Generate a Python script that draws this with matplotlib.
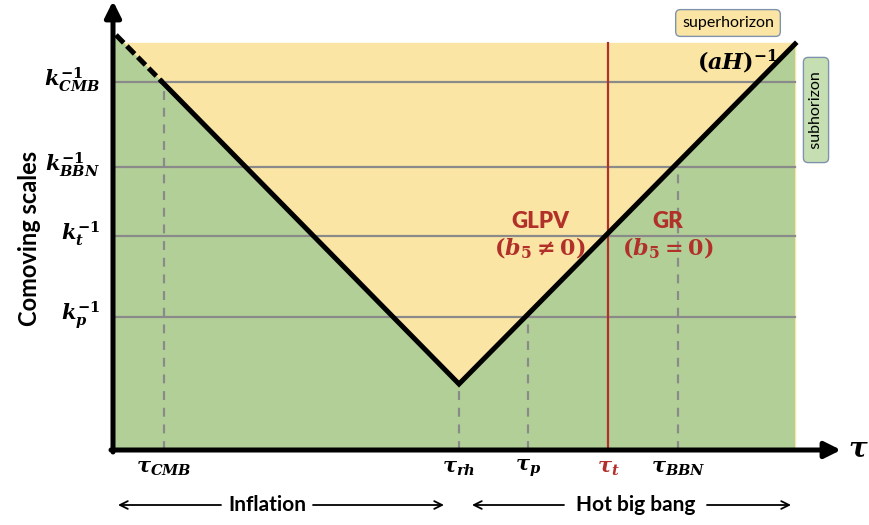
import matplotlib.pyplot as plt
import numpy as np

plt.rcParams['mathtext.fontset'] = 'custom'
plt.rcParams['mathtext.it'] = 'DejaVu Serif:italic:bold'
plt.rcParams['mathtext.rm'] = 'DejaVu Serif:bold'
plt.rcParams['mathtext.bf'] = 'DejaVu Serif:bold'

# horizon line (aH)^-1 : conformal time vs comoving scale (schematic units)
horizon_tau = [3, 346, 682]
horizon_k = [415, 66, 406]
top_k = 407
right_tau = 682

k_labels = [r'$k_{CMB}^{-1}$', r'$k_{BBN}^{-1}$', r'$k_{t}^{-1}$', r'$k_{p}^{-1}$']
k_pos = [368, 283, 214, 133]

tau_labels = [r'$\tau_{CMB}$', r'$\tau_{rh}$', r'$\tau_{p}$', r'$\tau_{t}$', r'$\tau_{BBN}$']
tau_pos = [51, 346, 415, 495, 565]
tau_top = [368, 66, 133, 407, 283]

yellow = '#fbe5a4'
green = '#b2cf97'
red = '#b2302a'
gray = '#8a8a8a'

fig = plt.figure(figsize=(8.69, 5.25), dpi=100)
ax = fig.add_axes([0, 0, 1, 1])
ax.set_xlim(-113, 869 - 113)
ax.set_ylim(450 - 525, 450)
ax.axis('off')

# regions
ax.fill_between([0, right_tau], 0, top_k, color=yellow, zorder=1)
gx = [0] + horizon_tau + [right_tau, 0]
gy = [horizon_k[0]] + horizon_k + [0, 0]
ax.fill(gx, gy, color=green, lw=0, zorder=2)

# horizontal scale lines
for k in k_pos:
    ax.plot([0, right_tau], [k, k], color=gray, lw=1.6, zorder=3)

# vertical time lines
for i, (t, top) in enumerate(zip(tau_pos, tau_top)):
    if i == 3:
        ax.plot([t, t], [0, top], color=red, lw=1.6, zorder=4)
    else:
        ax.plot([t, t], [0, top], color=gray, lw=1.6, ls=(0, (4, 3.5)), zorder=3)

# horizon line: dashed before CMB crossing, solid afterwards
k_cmb_tau = np.interp(-k_pos[0], [-horizon_k[0], -horizon_k[1]], horizon_tau[:2])
ax.plot([horizon_tau[0], k_cmb_tau], [horizon_k[0], k_pos[0]], color='black', lw=3.6,
        ls=(0, (2.2, 0.9)), solid_capstyle='butt', zorder=5)
ax.plot([k_cmb_tau] + horizon_tau[1:], [k_pos[0]] + horizon_k[1:], color='black', lw=3.6,
        solid_joinstyle='miter', zorder=5)

# axes with arrows
ax.annotate('', xy=(0, 449), xytext=(0, -2),
            arrowprops=dict(arrowstyle='-|>', lw=3.6, color='black', mutation_scale=24, shrinkA=0, shrinkB=0),
            zorder=6)
ax.annotate('', xy=(728, 0), xytext=(-2, 0),
            arrowprops=dict(arrowstyle='-|>', lw=3.6, color='black', mutation_scale=24, shrinkA=0, shrinkB=0),
            zorder=6)
ax.text(745, 1, r'$\tau$', fontsize=20, ha='center', va='center')

# tick labels
for lab, k in zip(k_labels, k_pos):
    ax.text(-13, k + 2, lab, fontsize=15, ha='right', va='center')
for i, (lab, t) in enumerate(zip(tau_labels, tau_pos)):
    ax.text(t, -18, lab, fontsize=15, ha='center', va='center', color=red if i == 3 else 'black')

ax.text(-84, 212, 'Comoving scales', fontsize=17, fontweight='bold', family='Lato',
        rotation=90, ha='center', va='center')

# annotations
ax.text(625, 388, r'$(aH)^{-1}$', fontsize=16, ha='center', va='center')
ax.text(427, 228, 'GLPV', fontsize=16, fontweight='heavy', family='Lato', color=red, ha='center', va='center')
ax.text(427, 202, r'$(b_5\neq 0)$', fontsize=16, color=red, ha='center', va='center')
ax.text(555, 228, 'GR', fontsize=16, fontweight='heavy', family='Lato', color=red, ha='center', va='center')
ax.text(555, 202, r'$(b_5=0)$', fontsize=16, color=red, ha='center', va='center')

ax.text(615, 427, 'superhorizon', fontsize=11.5, family='Lato', ha='center', va='center',
        bbox=dict(boxstyle='round,pad=0.4,rounding_size=0.3', fc=yellow, ec='#8093ad', lw=1))
ax.text(703, 340, '  subhorizon  ', fontsize=11.5, family='Lato', ha='center', va='center', rotation=90,
        bbox=dict(boxstyle='round,pad=0.35,rounding_size=0.3', fc='#c6dfb2', ec='#8093ad', lw=1))

# era arrows
arrow_kw = dict(arrowstyle='->', lw=1.3, color='black', mutation_scale=14, shrinkA=0, shrinkB=0)
ax.annotate('', xy=(5, -55), xytext=(108, -55), arrowprops=arrow_kw)
ax.annotate('', xy=(331, -55), xytext=(200, -55), arrowprops=arrow_kw)
ax.text(154, -55, 'Inflation', fontsize=15, fontweight='bold', family='Lato', ha='center', va='center')
ax.annotate('', xy=(359, -55), xytext=(451, -55), arrowprops=arrow_kw)
ax.annotate('', xy=(678, -55), xytext=(594, -55), arrowprops=arrow_kw)
ax.text(523, -55, 'Hot big bang', fontsize=15, fontweight='bold', family='Lato', ha='center', va='center')

fig.savefig('out.png', dpi=100)
